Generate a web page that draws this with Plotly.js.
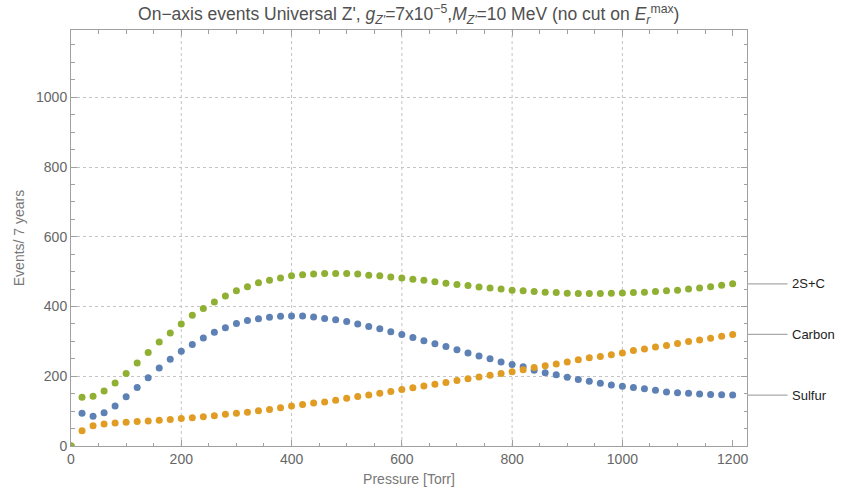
<!DOCTYPE html>
<html>
<head>
<meta charset="utf-8">
<script src="https://cdn.plot.ly/plotly-3.0.1.min.js"></script>
<style>html,body{margin:0;padding:0;background:#fff;}#chart{width:841px;height:500px;}</style>
</head>
<body>
<div id="chart"></div>
<script>
// Pressure values [Torr]
const pressure = [0,20,40,60,80,100,120,140,160,180,200,220,240,260,280,300,320,340,360,380,400,420,440,460,480,500,520,540,560,580,600,620,640,660,680,700,720,740,760,780,800,820,840,860,880,900,920,940,960,980,1000,1020,1040,1060,1080,1100,1120,1140,1160,1180,1200];

const sulfur = [0,94,85,95,115,141,168,196,224,249,272,291,310,326,339,351,360,365,369,372,373,373,370,366,362,357,350,343,336,328,320,311,302,293,285,276,267,258,250,241,234,227,217,210,204,197,191,186,180,175,171,168,164,160,155,153,151,149,148,147,146];

const carbon = [0,44,58,63,66,68,70,72,74,76,79,81,84,87,91,94,97,101,105,110,115,119,123,126,131,137,142,146,151,156,162,167,172,177,182,188,193,198,203,208,213,219,225,230,235,241,247,253,257,262,267,274,278,284,288,294,300,304,309,315,320];

const combined = [0,140,143,158,181,208,238,268,298,324,350,375,394,413,430,445,457,468,475,482,488,491,493,495,495,495,493,490,488,485,482,478,475,471,467,463,460,456,453,450,447,445,443,441,440,438,437,437,437,438,439,440,441,443,445,447,450,453,457,461,465];

const seriesNames = ["Sulfur", "Carbon", "2S+C"];
const seriesColors = ["#5E81B5", "#E19C24", "#8FB032"];
const xGridVals = [200, 400, 600, 800, 1000];

const seriesData = [sulfur, carbon, combined];

const traces = seriesData.map((vals, i) => ({
  type: "scatter",
  mode: "markers",
  x: pressure,
  y: vals,
  name: seriesNames[i],
  marker: {color: seriesColors[i], size: 7, line: {width: 0}},
  hoverinfo: "x+y+name"
}));

const shapes = xGridVals.map(v => ({
  type: "line", xref: "x", yref: "paper", x0: v, x1: v, y0: 0, y1: 1,
  line: {color: "#c4c4c4", width: 1, dash: "dot"}, layer: "below"
}));

const annotations = [];
seriesData.forEach((vals, i) => {
  const last = vals[vals.length - 1];
  shapes.push({
    type: "line", xref: "paper", yref: "y", x0: 1, x1: 1.06, y0: last, y1: last,
    line: {color: "#aaaaaa", width: 1.3}
  });
  annotations.push({
    xref: "paper", yref: "y", x: 1.063, y: last, text: seriesNames[i],
    showarrow: false, xanchor: "left", yanchor: "middle",
    font: {family: "Liberation Sans, Arial, sans-serif", size: 13, color: "#222222"}
  });
});

const axisCommon = {
  showline: true, linecolor: "#a0a0a0", linewidth: 1, mirror: "allticks",
  ticks: "inside", ticklen: 6, tickcolor: "#a0a0a0", tickwidth: 1,
  zeroline: false,
  tickfont: {family: "Liberation Sans, Arial, sans-serif", size: 14, color: "#666666"},
  minor: {dtick: 50, ticks: "inside", ticklen: 3.5, tickcolor: "#a0a0a0", showgrid: false}
};

const layout = {
  width: 841, height: 500,
  margin: {l: 71, r: 94, t: 30, b: 54},
  paper_bgcolor: "#ffffff", plot_bgcolor: "#ffffff",
  showlegend: false,
  title: {
    text: "On\u2212axis events Universal Z', <i>g</i><sub><i>Z'</i></sub>=7x10<sup>\u22125</sup>,<i>M</i><sub><i>Z'</i></sub>=10 MeV (no cut on <i>E</i><sub><i>r</i></sub><sup>max</sup>)",
    x: 0.486, xanchor: "center", y: 0.972, yanchor: "middle",
    font: {family: "Liberation Sans, Arial, sans-serif", size: 17.5, color: "#505050"}
  },
  xaxis: Object.assign({}, axisCommon, {
    range: [0, 1226], dtick: 200, tick0: 0, showgrid: false,
    title: {text: "Pressure [Torr]", standoff: 8,
      font: {family: "Liberation Sans, Arial, sans-serif", size: 14, color: "#777777"}}
  }),
  yaxis: Object.assign({}, axisCommon, {
    range: [0, 1193], dtick: 200, tick0: 0, showgrid: true,
    gridcolor: "#c4c4c4", griddash: "dot", gridwidth: 1,
    title: {text: "Events/ 7 years", standoff: 8,
      font: {family: "Liberation Sans, Arial, sans-serif", size: 14, color: "#777777"}}
  }),
  shapes: shapes,
  annotations: annotations
};

Plotly.newPlot("chart", traces, layout, {displayModeBar: false, staticPlot: true});
</script>
</body>
</html>
